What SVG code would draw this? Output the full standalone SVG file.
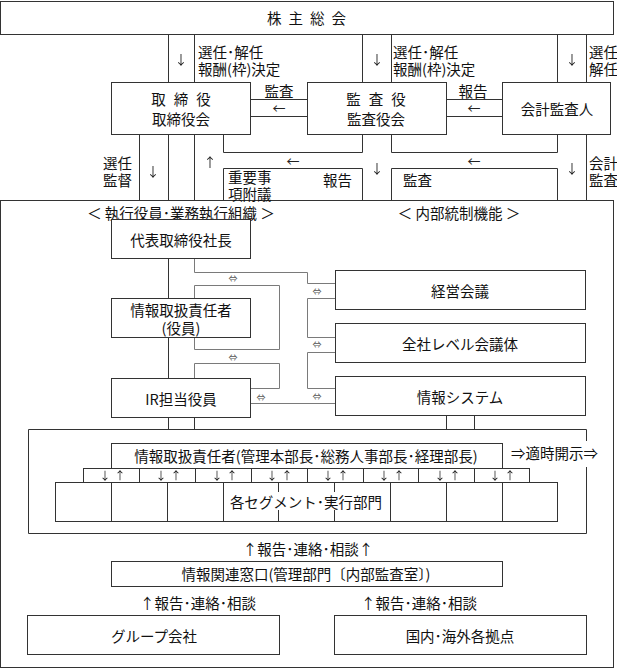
<svg xmlns="http://www.w3.org/2000/svg" width="617" height="669" viewBox="0 0 617 669">
<defs>
<filter id="gray" x="0" y="0" width="1" height="1" color-interpolation-filters="sRGB">
<feColorMatrix type="saturate" values="0"/>
</filter>
</defs>
<style>
.b{fill:#fff;stroke:#333;stroke-width:1}
.f{fill:none;stroke:#333;stroke-width:1}
.l{fill:none;stroke:#333;stroke-width:1}
.c{fill:none;stroke:#7a7a7a;stroke-width:1}
.bg{fill:#fff;stroke:none}
text{font-family:"Noto Sans CJK JP","Noto Sans",sans-serif;font-size:14.5px;fill:#111;dominant-baseline:central}
.m{text-anchor:middle}
.ar{font-family:"Noto Sans CJK JP",sans-serif;font-size:13px;text-anchor:middle;fill:#222}
.sa{font-family:"Noto Sans CJK JP",sans-serif;font-size:11px;text-anchor:middle;fill:#222}
.d{font-size:9px;fill:#555;text-anchor:middle}
.sp{letter-spacing:7px}
</style>
<rect x="0" y="0" width="617" height="669" fill="#fff"/>

<g id="frames">
<rect class="f" x="0.5" y="200.5" width="613" height="467"/>
<path class="f" d="M586.5,441 V429.5 H28.5 V533.5 H586.5 V467"/>
<text x="181" y="212" class="m">＜ 執行役員･業務執行組織 ＞</text>
<text x="459" y="212" class="m">＜ 内部統制機能 ＞</text>
</g>

<g id="connectors">
<path class="l" d="M168.5,34 V82 M194.5,34 V82 M362.5,34 V82 M391.5,34 V82 M557.5,34 V82 M586.5,34 V82"/>
<path class="l" d="M250,99.5 H307 M250,116.5 H307 M446,99.5 H502 M446,116.5 H502"/>
<path class="l" d="M139.5,134 V200 M168.5,134 V200 M194.5,134 V200"/>
<path class="l" d="M223.5,134 V152.5 H362.5 V134 M391.5,134 V152.5 H557.5 V134"/>
<path class="l" d="M223.5,200 V168.5 H362.5 V200 M391.5,200 V168.5 H557.5 V200"/>
<path class="l" d="M586.5,134 V200"/>
<path class="l" d="M168.5,258 V298 M168.5,337 V378 M168.5,417 V429 M194.5,417 V429 M446.5,415 V429 M474.5,415 V429"/>
<path class="c" d="M194.5,258 V272.5 H307.5 V283.5 H335"/>
<path class="c" d="M335,298.5 H307.5 V337.5 H335"/>
<path class="c" d="M335,352.5 H307.5 V388.5 H335"/>
<path class="c" d="M250,403.5 H335"/>
<path class="c" d="M194.5,298 V285.5 H279.5 V349.5 H194.5 V337"/>
<path class="c" d="M194.5,378 V363.5 H279.5 V388.5 H250"/>
<text class="d" x="317" y="291">⇔</text>
<text class="d" x="317" y="344">⇔</text>
<text class="d" x="317" y="396">⇔</text>
<text class="d" x="233" y="278">⇔</text>
<text class="d" x="233" y="357">⇔</text>
<text class="d" x="261" y="397">⇔</text>
<g filter="url(#gray)">
<text class="ar" x="181" y="58">↓</text>
<text class="ar" x="377" y="58">↓</text>
<text class="ar" x="572" y="58">↓</text>
<text class="ar" x="153" y="170">↓</text>
<text class="ar" x="210" y="161">↑</text>
<text class="ar" x="377" y="167">↓</text>
<text class="ar" x="572" y="167">↓</text>
</g>
<text class="ar" x="279" y="107">←</text>
<text class="ar" x="474" y="107">←</text>
<text class="ar" x="293" y="160">←</text>
<text class="ar" x="474" y="160">←</text>
<text x="198" y="51">選任･解任<tspan x="198" y="68">報酬(枠)決定</tspan></text>
<text x="393" y="51">選任･解任<tspan x="393" y="68">報酬(枠)決定</tspan></text>
<text x="589" y="51">選任<tspan x="589" y="68">解任</tspan></text>
<text class="m" x="279" y="90">監査</text>
<text class="m" x="473" y="90">報告</text>
<text x="103" y="162">選任<tspan x="103" y="179">監督</tspan></text>
<text x="228" y="176">重要事<tspan x="228" y="193">項附議</tspan></text>
<text x="323" y="179">報告</text>
<text x="403" y="179">監査</text>
<text x="589" y="162">会計<tspan x="589" y="179">監査</tspan></text>
<rect class="bg" x="580" y="442" width="10" height="24"/>
<text x="511" y="452">⇒適時開示⇒</text>
<text class="m" x="308" y="548">↑報告･連絡･相談↑</text>
<text class="m" x="198" y="602">↑報告･連絡･相談</text>
<text class="m" x="419" y="602">↑報告･連絡･相談</text>
</g>

<g id="shareholders">
<rect class="b" x="0.5" y="1.5" width="613" height="33"/>
<text class="m sp" x="310" y="17">株主総会</text>
</g>

<g id="board">
<rect class="b" x="111.5" y="82.5" width="139" height="52"/>
<text class="m" x="185" y="98" style="letter-spacing:8px">取締役</text>
<text class="m" x="181" y="118">取締役会</text>
</g>

<g id="auditors">
<rect class="b" x="307.5" y="82.5" width="139" height="52"/>
<text class="m" x="380" y="98" style="letter-spacing:8px">監査役</text>
<text class="m" x="376" y="118">監査役会</text>
</g>

<g id="accounting-auditor">
<rect class="b" x="502.5" y="82.5" width="108" height="52"/>
<text class="m" x="557" y="108">会計監査人</text>
</g>

<g id="president">
<rect class="b" x="111.5" y="219.5" width="139" height="39"/>
<text class="m" x="181" y="239">代表取締役社長</text>
</g>

<g id="info-officer">
<rect class="b" x="111.5" y="298.5" width="139" height="39"/>
<text class="m" x="181" y="309">情報取扱責任者<tspan x="181" y="327">(役員)</tspan></text>
</g>

<g id="ir-officer">
<rect class="b" x="111.5" y="378.5" width="139" height="39"/>
<text class="m" x="181" y="398">IR担当役員</text>
</g>

<g id="management-meeting">
<rect class="b" x="335.5" y="270.5" width="250" height="39"/>
<text class="m" x="460" y="290">経営会議</text>
</g>

<g id="company-meeting">
<rect class="b" x="335.5" y="323.5" width="250" height="39"/>
<text class="m" x="460" y="343">全社レベル会議体</text>
</g>

<g id="info-system">
<rect class="b" x="335.5" y="376.5" width="250" height="39"/>
<text class="m" x="460" y="396">情報システム</text>
</g>

<g id="info-managers">
<rect class="b" x="111.5" y="443.5" width="391" height="25"/>
<text class="m" x="306" y="455">情報取扱責任者(管理本部長･総務人事部長･経理部長)</text>
</g>

<g id="arrow-row">
<rect class="b" x="83.5" y="468.5" width="446" height="14"/>
<path class="l" d="M139.5,468 V482 M195.5,468 V482 M251.5,468 V482 M307.5,468 V482 M363.5,468 V482 M418.5,468 V482 M474.5,468 V482"/>
<g filter="url(#gray)">
<text class="sa" x="105" y="475">↓</text><text class="sa" x="120" y="475">↑</text>
<text class="sa" x="161" y="475">↓</text><text class="sa" x="176" y="475">↑</text>
<text class="sa" x="217" y="475">↓</text><text class="sa" x="232" y="475">↑</text>
<text class="sa" x="272" y="475">↓</text><text class="sa" x="287" y="475">↑</text>
<text class="sa" x="328" y="475">↓</text><text class="sa" x="343" y="475">↑</text>
<text class="sa" x="384" y="475">↓</text><text class="sa" x="399" y="475">↑</text>
<text class="sa" x="440" y="475">↓</text><text class="sa" x="455" y="475">↑</text>
<text class="sa" x="495" y="475">↓</text><text class="sa" x="510" y="475">↑</text>
</g>
</g>

<g id="segments">
<rect class="b" x="55.5" y="482.5" width="502" height="39"/>
<path class="l" d="M111.5,482 V521 M167.5,482 V521 M223.5,482 V521 M278.5,482 V521 M334.5,482 V521 M390.5,482 V521 M446.5,482 V521 M502.5,482 V521"/>
<rect class="bg" x="229" y="492" width="156" height="18"/>
<text class="m" x="306" y="501">各セグメント･実行部門</text>
</g>

<g id="contact-window">
<rect class="b" x="111.5" y="561.5" width="391" height="25"/>
<text class="m" x="306" y="573">情報関連窓口(管理部門〔内部監査室〕)</text>
</g>

<g id="group-companies">
<rect class="b" x="27.5" y="615.5" width="252" height="39"/>
<text class="m" x="154" y="635">グループ会社</text>
</g>

<g id="bases">
<rect class="b" x="334.5" y="615.5" width="252" height="39"/>
<text class="m" x="460" y="635">国内･海外各拠点</text>
</g>
</svg>
